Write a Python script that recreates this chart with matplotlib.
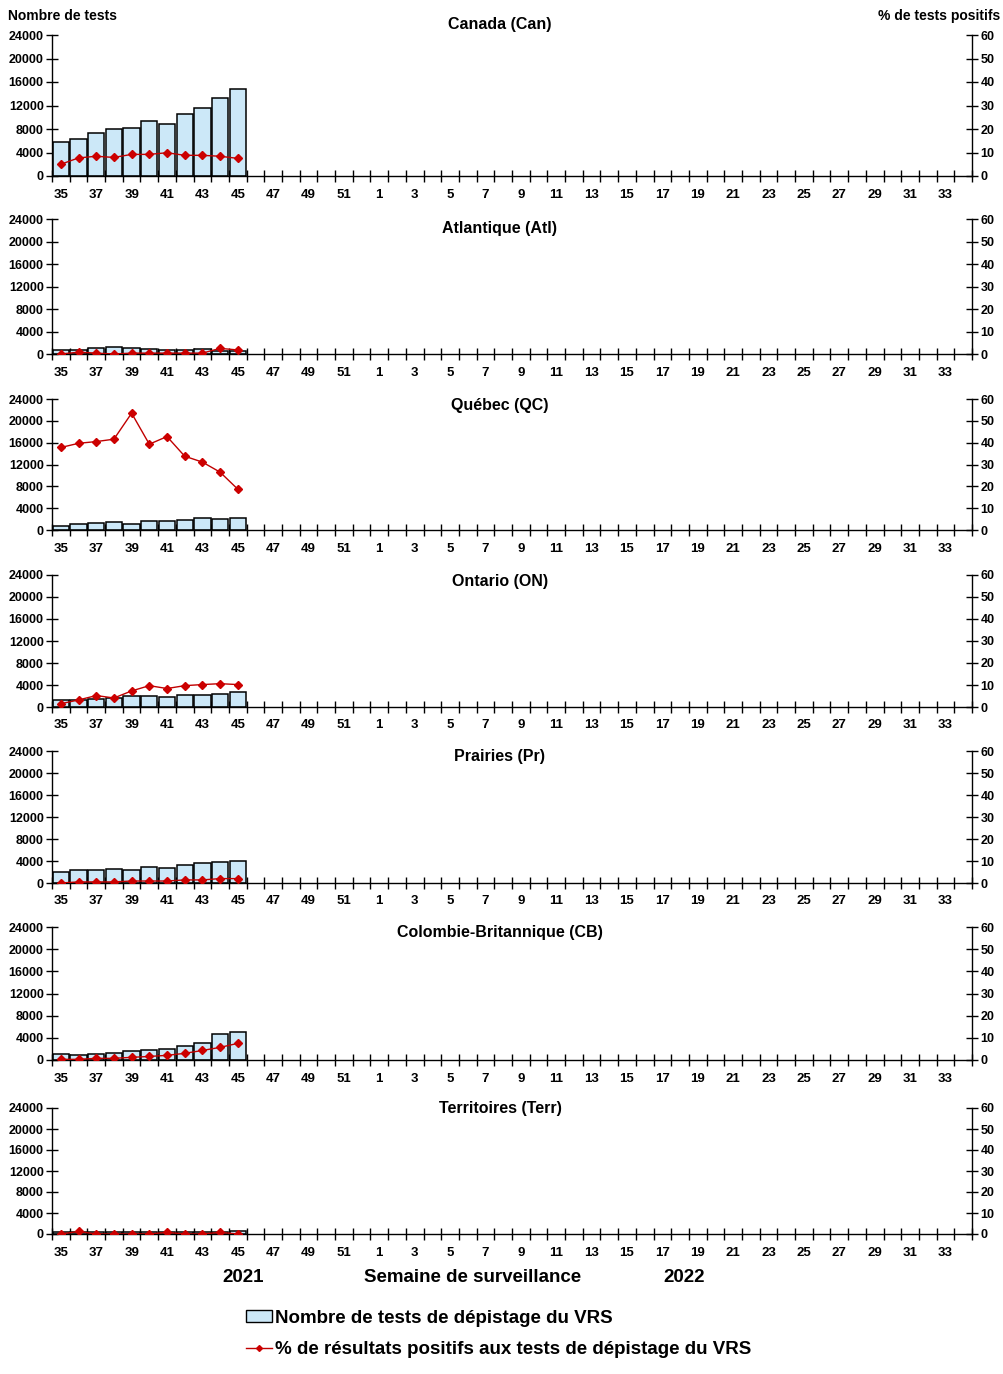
import numpy as np
import matplotlib
matplotlib.use("Agg")
import matplotlib.pyplot as plt
from matplotlib.patches import Patch
from matplotlib.lines import Line2D

plt.rcParams['font.family'] = ['Liberation Sans', 'DejaVu Sans']
plt.rcParams['font.weight'] = 'bold'

# ---------------- data ----------------
weeks = list(range(35, 53)) + list(range(1, 35))
week_labels = [str(w) if i % 2 == 0 else "" for i, w in enumerate(weeks)]

regions = ["Canada (Can)", "Atlantique (Atl)", "Québec (QC)", "Ontario (ON)",
           "Prairies (Pr)", "Colombie-Britannique (CB)", "Territoires (Terr)"]

# tests, weeks 35-45 of 2021
tests_can = [5750, 6250, 7250, 7950, 8100, 9300, 8800, 10500, 11500, 13200, 14750]
tests_atl = [700, 700, 1000, 1200, 1000, 850, 700, 700, 850, 540, 600]
tests_qc = [730, 1030, 1220, 1460, 1100, 1650, 1650, 1830, 2190, 2010, 2190]
tests_on = [1270, 1270, 1520, 1700, 2060, 2060, 1880, 2250, 2250, 2430, 2800]
tests_pr = [2000, 2360, 2360, 2540, 2360, 2900, 2720, 3260, 3630, 3810, 3990]
tests_cb = [1020, 840, 1020, 1200, 1560, 1740, 1920, 2460, 3000, 4620, 4980]
tests_terr = [450, 450, 450, 450, 450, 450, 450, 450, 450, 450, 550]

# % positive, weeks 35-45 of 2021
pos_can = [5.0, 7.7, 8.4, 7.9, 9.2, 9.2, 9.9, 8.8, 8.8, 8.4, 7.5]
pos_atl = [0.0, 0.8, 0.4, 0.0, 0.4, 0.4, 0.4, 0.4, 0.4, 2.5, 1.8]
pos_qc = [37.8, 39.7, 40.5, 41.6, 53.5, 39.3, 42.8, 33.8, 31.1, 26.5, 18.7]
pos_on = [1.5, 3.2, 5.2, 4.1, 7.3, 9.7, 8.4, 9.7, 10.2, 10.6, 10.2]
pos_pr = [0.0, 0.5, 0.5, 0.5, 0.9, 0.9, 0.9, 1.4, 1.4, 2.0, 2.0]
pos_cb = [0.3, 0.3, 0.75, 0.75, 1.2, 1.6, 2.1, 3.0, 4.3, 5.7, 7.5]
pos_terr = [0.0, 1.2, 0.0, 0.0, 0.0, 0.0, 0.8, 0.0, 0.0, 0.8, 0.0]

tests_all = [tests_can, tests_atl, tests_qc, tests_on, tests_pr, tests_cb, tests_terr]
pos_all = [pos_can, pos_atl, pos_qc, pos_on, pos_pr, pos_cb, pos_terr]

left_ticks = [0, 4000, 8000, 12000, 16000, 20000, 24000]
right_ticks = [0, 10, 20, 30, 40, 50, 60]

# ---------------- layout (pixels) ----------------
W, H = 1004, 1374
fig = plt.figure(figsize=(W / 100, H / 100), dpi=100)
panel_px = [(35, 176), (219, 354), (399, 530), (575, 707), (751, 883), (927, 1060), (1108, 1234)]
title_y = [24, 229, 405, 581, 757, 933, 1109]
x0, x1 = 52, 972

bar_color = "#CCE8F8"
line_color = "#C00000"
n = len(weeks)
xs = np.arange(n)

def pad(vals):
    out = np.full(n, np.nan)
    out[:len(vals)] = vals
    return out

for k in range(7):
    top, bot = panel_px[k]
    ax = fig.add_axes([x0 / W, 1 - bot / H, (x1 - x0) / W, (bot - top) / H])
    t = pad(tests_all[k])
    p = pad(pos_all[k])
    ax.bar(xs, t, width=0.92, color=bar_color, edgecolor="black", linewidth=1.1, zorder=2)
    ax.set_xlim(-0.5, n - 0.5)
    ax.set_ylim(0, 24000)
    ax.set_yticks(left_ticks)
    ax.set_yticklabels([str(v) for v in left_ticks], fontsize=9, fontweight='bold')
    ax.set_xticks(xs)
    ax.set_xticklabels(week_labels, fontsize=9.5, fontweight='bold')
    ax.set_xticks(np.arange(-0.5, n, 1.0), minor=True)
    ax.tick_params(axis='x', which='major', length=0, pad=9)
    ax.tick_params(axis='x', which='minor', length=9, direction='inout', width=1)
    ax.tick_params(axis='y', length=8, direction='inout', width=1, pad=2)
    ax.spines['top'].set_visible(False)
    ax.spines['right'].set_visible(False)
    for s in ['left', 'bottom']:
        ax.spines[s].set_linewidth(1.0)

    ax2 = ax.twinx()
    ax2.set_ylim(0, 60)
    ax2.set_yticks(right_ticks)
    ax2.set_yticklabels([str(v) for v in right_ticks], fontsize=9, fontweight='bold')
    ax2.tick_params(axis='y', length=8, direction='inout', width=1, pad=2)
    ax2.plot(xs, p, color=line_color, linewidth=1.0, marker='D', markersize=4.5,
             markerfacecolor="#CC0000", markeredgecolor="#CC0000", zorder=3)
    ax2.spines['top'].set_visible(False)
    ax2.spines['left'].set_visible(False)
    ax2.spines['bottom'].set_visible(False)
    ax2.spines['right'].set_linewidth(1.0)

    fig.text(500 / W, 1 - title_y[k] / H, regions[k], ha='center', va='center',
             fontsize=11.5, fontweight='bold')

fig.text(8 / W, 1 - 16 / H, "Nombre de tests", ha='left', va='center', fontsize=10, fontweight='bold')
fig.text(1000 / W, 1 - 16 / H, "% de tests positifs", ha='right', va='center', fontsize=10, fontweight='bold')

fig.text(243 / W, 1 - 1277 / H, "2021", ha='center', va='center', fontsize=13.5, fontweight='bold')
fig.text(473 / W, 1 - 1277 / H, "Semaine de surveillance", ha='center', va='center', fontsize=13.5, fontweight='bold')
fig.text(684 / W, 1 - 1277 / H, "2022", ha='center', va='center', fontsize=13.5, fontweight='bold')

handles = [Patch(facecolor=bar_color, edgecolor="black", linewidth=1.0),
           Line2D([0], [0], color=line_color, linewidth=1.0, marker='D', markersize=3,
                  markerfacecolor="#CC0000", markeredgecolor="#CC0000")]
labels = ["Nombre de tests de dépistage du VRS",
          "% de résultats positifs aux tests de dépistage du VRS"]
leg = fig.legend(handles, labels, loc='upper left', bbox_to_anchor=(246 / W, 1 - 1310 / H),
                 frameon=False, prop={'size': 13.5, 'weight': 'bold'}, handlelength=1.4,
                 handleheight=0.6, handletextpad=0.15, labelspacing=0.75, borderaxespad=0,
                 borderpad=0)

fig.savefig("out.png", dpi=100, facecolor="white")
